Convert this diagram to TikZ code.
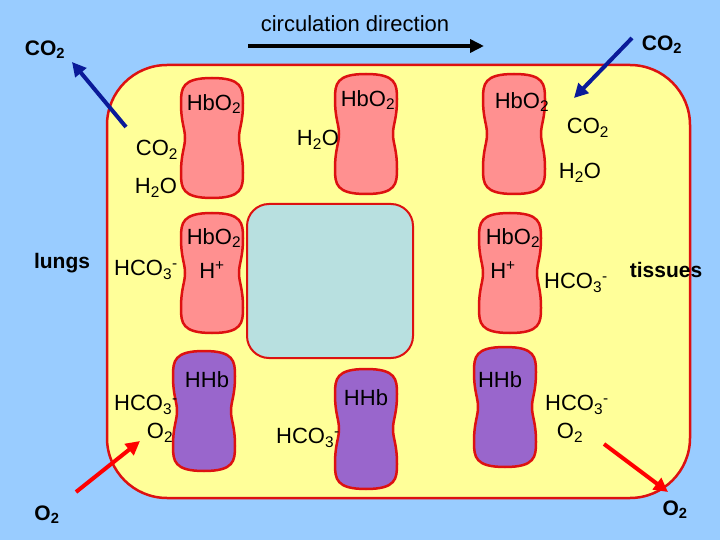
\documentclass[tikz,border=0pt]{standalone}
\usepackage{fontspec}
\setmainfont{Liberation Sans}
\usetikzlibrary{arrows.meta}
\definecolor{bg}{HTML}{99CCFF}
\definecolor{yel}{HTML}{FFFF99}
\definecolor{inn}{HTML}{B8E0E0}
\definecolor{pinkc}{HTML}{FF9090}
\definecolor{purc}{HTML}{9966CC}
\definecolor{redb}{HTML}{DD1111}
\definecolor{navy}{HTML}{0A1A99}
\newcommand{\sbs}[1]{\textsubscript{#1}}
\newcommand{\sps}[1]{\textsuperscript{#1}}
\tikzset{
  lab/.style={font=\fontsize{22}{22}\selectfont, inner sep=0pt},
  blab/.style={font=\bfseries\fontsize{21}{21}\selectfont, inner sep=0pt},
  bluearr/.style={draw=navy, line width=4pt, -{Triangle[length=14pt,width=14pt]}},
  redarr/.style={draw=red, line width=4pt, -{Triangle[length=14pt,width=14pt]}},
  cellb/.style={draw=redb, line width=2.5pt}
}
\newcommand{\rbc}[3]{%
  \path[cellb, fill=#3, shift={(#1,#2)}] (0,-60) .. controls (30,-60) and (31,-50) .. (31,-35)
   .. controls (31,-15) and (27,-10) .. (27,0) .. controls (27,10) and (31,15) .. (31,35)
   .. controls (31,50) and (30,60) .. (0,60) .. controls (-30,60) and (-31,50) .. (-31,35)
   .. controls (-31,15) and (-27,10) .. (-27,0) .. controls (-27,-10) and (-31,-15) .. (-31,-35)
   .. controls (-31,-50) and (-30,-60) .. (0,-60) -- cycle;}
\begin{document}
\begin{tikzpicture}[x=1pt,y=-1pt]
\fill[bg] (0,0) rectangle (720,540);
\useasboundingbox (0,0) rectangle (720,540);
\draw[redb, line width=2.5pt, fill=yel, rounded corners=60pt] (107,65) rectangle (690,498);
\draw[redb, line width=2pt, fill=inn, rounded corners=22pt] (247,204) rectangle (413,358);
\rbc{212}{138}{pinkc}
\rbc{366}{134}{pinkc}
\rbc{514}{134}{pinkc}
\rbc{212}{273}{pinkc}
\rbc{510}{273}{pinkc}
\rbc{204}{411}{purc}
\rbc{366}{429}{purc}
\rbc{505}{407}{purc}
% labels
\node[lab] (a1) at (214,104) {HbO\sbs{2}};
\node[lab] (a2) at (157,150) {CO\sbs{2}};
\node[lab] (a3) at (156,188) {H\sbs{2}O};
\node[lab] (b1) at (368,100) {HbO\sbs{2}};
\node[lab] (b2) at (318,140) {H\sbs{2}O};
\node[lab] (c1) at (522,102) {HbO\sbs{2}};
\node[lab] (c2) at (588,128) {CO\sbs{2}};
\node[lab] (c3) at (580,173) {H\sbs{2}O};
\node[lab] (d1) at (214,238) {HbO\sbs{2}};
\node[lab] (d2) at (146,270) {HCO\sbs{3}\sps{-}};
\node[lab] (d3) at (212,270) {H\sps{+}};
\node[lab] (e1) at (513,238) {HbO\sbs{2}};
\node[lab] (e2) at (503,270) {H\sps{+}};
\node[lab] (e3) at (576,283) {HCO\sbs{3}\sps{-}};
\node[lab] (f1) at (207,380) {HHb};
\node[lab] (f2) at (146,405) {HCO\sbs{3}\sps{-}};
\node[lab] (f3) at (160,433) {O\sbs{2}};
\node[lab] (g1) at (366,398) {HHb};
\node[lab] (g2) at (308,438) {HCO\sbs{3}\sps{-}};
\node[lab] (h1) at (500,380) {HHb};
\node[lab] (h2) at (577,405) {HCO\sbs{3}\sps{-}};
\node[lab] (h3) at (570,433) {O\sbs{2}};
% outer labels
\node[lab] (circ) at (355,24) {circulation direction};
\node[blab] (co2l) at (45,50) {CO\sbs{2}};
\node[blab] (co2r) at (662,45) {CO\sbs{2}};
\node[blab] (lungs) at (62,263) {lungs};
\node[blab] (tiss) at (666,270) {tissues};
\node[blab] (o2l) at (47,515) {O\sbs{2}};
\node[blab] (o2r) at (675,510) {O\sbs{2}};
% arrows
\coordinate (s1) at (126,127); \coordinate (t1) at (72,62);
\coordinate (s2) at (632,38); \coordinate (t2) at (574,98);
\coordinate (s3) at (76,492); \coordinate (t3) at (140,441);
\coordinate (s4) at (604,444); \coordinate (t4) at (668,492);
\coordinate (s5) at (248,46); \coordinate (t5) at (484,46);
\draw[bluearr] (s1) -- (t1);
\draw[bluearr] (s2) -- (t2);
\draw[redarr] (s3) -- (t3);
\draw[redarr] (s4) -- (t4);
\draw[line width=4pt, -{Triangle[length=14pt,width=13pt]}] (s5) -- (t5);
\end{tikzpicture}
\end{document}
